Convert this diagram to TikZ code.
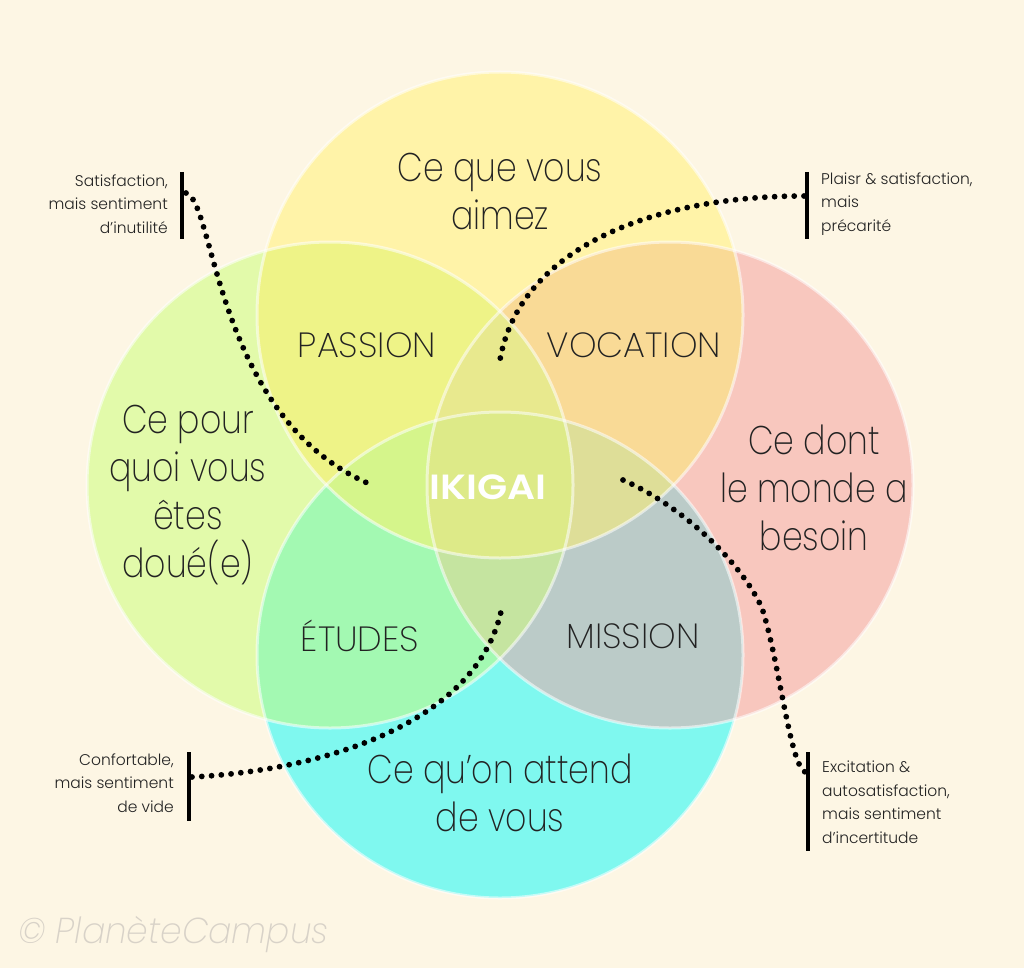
\documentclass[tikz,border=0pt]{standalone}
\usepackage{fontspec}
\IfFontExistsTF{Poppins ExtraLight}{\newfontfamily\thinf{Poppins ExtraLight}[FakeStretch=0.83]\newfontfamily\pairf{Poppins ExtraLight}}{\newfontfamily\thinf{Poppins}[FakeStretch=0.83]\newfontfamily\pairf{Poppins}}
\IfFontExistsTF{Poppins Light}{\newfontfamily\notef{Poppins Light}}{\newfontfamily\notef{Poppins}}
\IfFontExistsTF{Poppins SemiBold}{\newfontfamily\boldf{Poppins SemiBold}[FakeStretch=1.12]}{\newfontfamily\boldf{Poppins}[FakeBold=2,FakeStretch=1.12]}
\IfFontExistsTF{Poppins ExtraLight Italic}{\newfontfamily\itf{Poppins ExtraLight Italic}[FakeStretch=0.96]}{\newfontfamily\itf{Poppins}[FakeSlant=0.2,FakeStretch=0.96]}
\definecolor{bgc}{HTML}{FDF6E4}
\definecolor{topc}{HTML}{FFF3A8}
\definecolor{leftc}{HTML}{E2FAAA}
\definecolor{rightc}{HTML}{F8C7BE}
\definecolor{botc}{HTML}{7FF8EF}
\definecolor{tlc}{HTML}{EEF387}
\definecolor{trc}{HTML}{F9DA96}
\definecolor{lbc}{HTML}{A3F9B2}
\definecolor{rbc}{HTML}{BBCBC8}
\definecolor{tlrc}{HTML}{E8E98E}
\definecolor{tlbc}{HTML}{D5F58B}
\definecolor{trbc}{HTML}{DEDE98}
\definecolor{lrbc}{HTML}{C5E4A0}
\definecolor{allc}{HTML}{DDEA88}
\definecolor{inkc}{HTML}{222222}
\definecolor{copyc}{HTML}{D8D2C8}
\def\cT{(500,315) circle[radius=243pt]}
\def\cL{(330,485) circle[radius=243pt]}
\def\cR{(670,485) circle[radius=243pt]}
\def\cB{(500,655) circle[radius=243pt]}
\begin{document}
\begin{tikzpicture}[x=1pt,y=-1pt,
  big/.style={align=center,text=inkc,inner sep=0pt,font=\thinf\fontsize{40}{48}\selectfont},
  pair/.style={text=inkc,inner sep=0pt,font=\pairf\fontsize{35}{40}\selectfont},
  note/.style={text=inkc,inner sep=0pt,font=\notef\fontsize{15.5}{23.5}\selectfont},
  bar/.style={line width=3.5pt,black},
  dots/.style={line width=5.8pt,line cap=round,dash pattern=on 0pt off 9.8pt,black},
  rim/.style={line width=3pt,white,opacity=0.55}]
\fill[bgc] (0,0) rectangle (1024,968);
\useasboundingbox (0,0) rectangle (1024,968);
% single circles
\fill[topc] \cT;
\fill[leftc] \cL;
\fill[rightc] \cR;
\fill[botc] \cB;
% pairs
\begin{scope}\clip \cT; \fill[tlc] \cL; \fill[trc] \cR; \end{scope}
\begin{scope}\clip \cB; \fill[lbc] \cL; \fill[rbc] \cR; \end{scope}
% triples
\begin{scope}\clip \cT; \clip \cL; \fill[tlrc] \cR; \end{scope}
\begin{scope}\clip \cT; \clip \cL; \fill[tlbc] \cB; \end{scope}
\begin{scope}\clip \cT; \clip \cR; \fill[trbc] \cB; \end{scope}
\begin{scope}\clip \cB; \clip \cL; \fill[lrbc] \cR; \end{scope}
% all four
\begin{scope}\clip \cT; \clip \cL; \clip \cR; \fill[allc] \cB; \end{scope}
% rims
\draw[rim] \cT; \draw[rim] \cL; \draw[rim] \cR; \draw[rim] \cB;
% labels
\node[big] (aimez) at (500,191) {Ce que vous\\aimez};
\node[big] (doue) at (188,495) {Ce pour\\quoi vous\\êtes\\doué(e)};
\node[big] (monde) at (814,488) {Ce dont\\le monde a\\besoin};
\node[big] (attend) at (500,793) {Ce qu’on attend\\de vous};
\node[pair] (passion) at (367,345) {PASSION};
\node[pair] (vocation) at (634,345) {VOCATION};
\node[pair] (etudes) at (360,636) {ÉTUDES};
\node[pair] (mission) at (633,636) {MISSION};
\node[text=white,inner sep=0pt,font=\boldf\fontsize{35}{40}\selectfont] (ikigai) at (488,487) {IKIGAI};
% notes
\node[note,anchor=east,align=right] (ntl) at (168,204) {Satisfaction,\\mais sentiment\\d’inutilité};
\node[note,anchor=west,align=left] (ntr) at (821,204) {Plaisr \& satisfaction,\\mais\\précarité};
\node[note,anchor=east,align=right] (nbl) at (174,783) {Confortable,\\mais sentiment\\de vide};
\node[note,anchor=west,align=left] (nbr) at (822,802) {Excitation \&\\autosatisfaction,\\mais sentiment\\d’incertitude};
% bars
\coordinate (btl1) at (182,172); \coordinate (btl2) at (182,239);
\coordinate (btr1) at (807,172); \coordinate (btr2) at (807,239);
\coordinate (bbl1) at (189,752); \coordinate (bbl2) at (189,821);
\coordinate (bbr1) at (808,752); \coordinate (bbr2) at (808,851);
\draw[bar] (btl1) -- (btl2);
\draw[bar] (btr1) -- (btr2);
\draw[bar] (bbl1) -- (bbl2);
\draw[bar] (bbr1) -- (bbr2);
% dotted connectors
\coordinate (stl) at (186,193); \coordinate (etl) at (372,485);
\coordinate (str) at (804,196); \coordinate (etr) at (499,366);
\coordinate (sbl) at (192,777); \coordinate (ebl) at (502,607);
\coordinate (sbr) at (805,772); \coordinate (ebr) at (623,480);
\coordinate (mbr) at (762,608);
\draw[dots] (stl) .. controls (215,200) and (215,420) .. (etl);
\draw[dots] (str) .. controls (650,196) and (515,250) .. (etr);
\draw[dots] (sbl) .. controls (330,770) and (480,720) .. (ebl);
\draw[dots] (ebr) .. controls (680,505) and (740,560) .. (mbr) .. controls (779,660) and (790,765) .. (sbr);
% copyright
\node[anchor=west,inner sep=0pt,text=copyc,font=\itf\fontsize{36}{40}\selectfont] (copy) at (18,935) {© PlanèteCampus};
\end{tikzpicture}
\end{document}
